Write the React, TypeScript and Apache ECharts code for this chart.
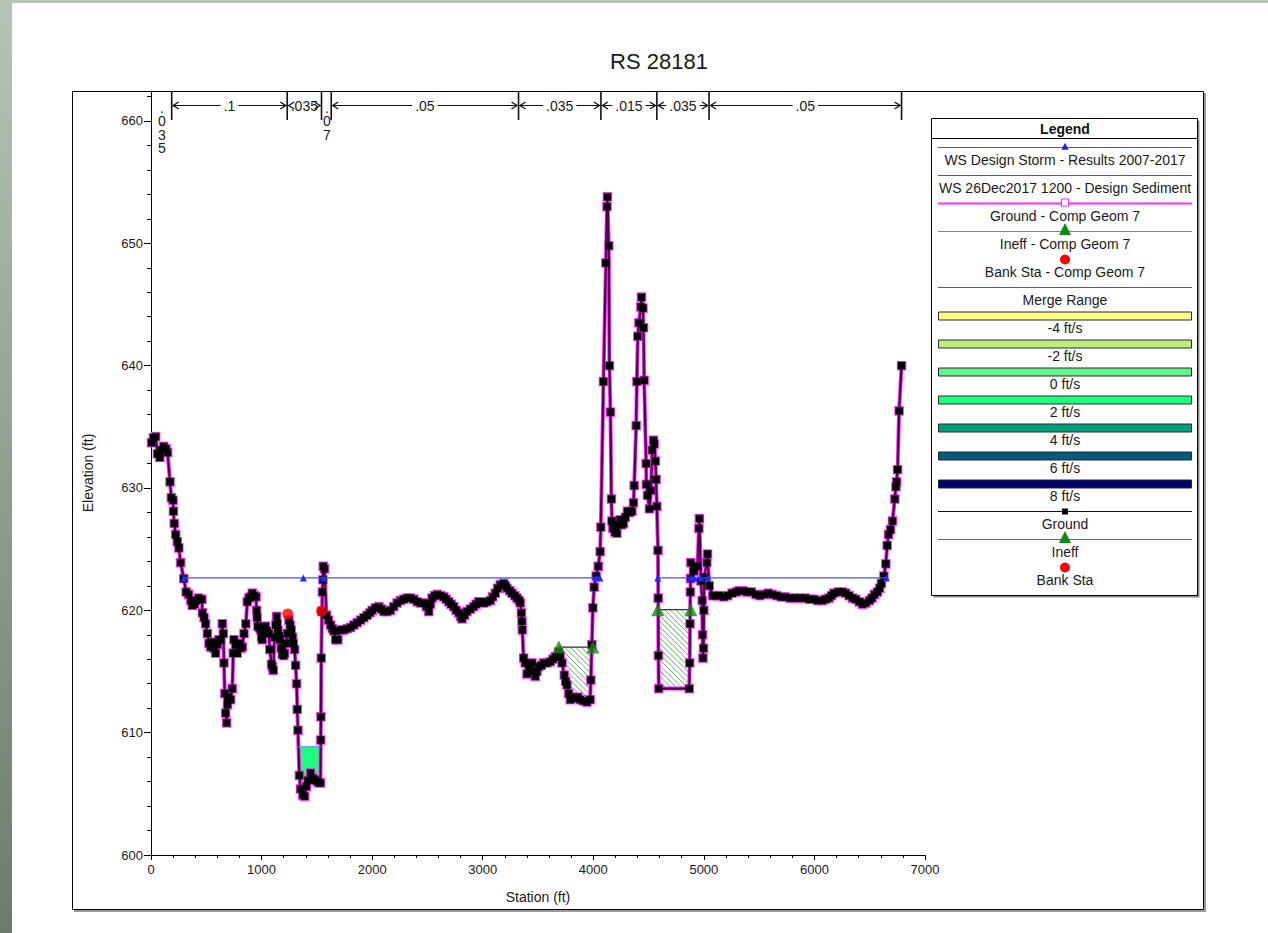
import React, { useEffect, useRef } from 'react';
import * as echarts from 'echarts';

const FONT = '"Liberation Sans", Arial, Helvetica, sans-serif';

const chartTitle = 'RS 28181';
const xAxisTitle = 'Station (ft)';
const yAxisTitle = 'Elevation (ft)';
const xMin = 0;
const xMax = 7000;
const xStep = 1000;
const yMin = 600;
const yMax = 662.45;
const yStep = 10;
const yMinorStep = 2;

// Ground profile (station ft, elevation ft)
const groundStation = [
  5, 22, 42, 58, 80, 95, 115, 135, 150, 172, 184, 199, 203, 210, 223, 238, 252, 268, 296, 318, 340, 360, 374, 395, 410, 430, 460, 465, 480, 494,
  510, 524, 539, 554, 570, 585, 600, 615, 630, 645, 654, 660, 667, 675, 684, 692, 700, 720, 735, 744, 750, 765, 780, 795, 810, 826, 841, 858, 871, 885,
  900, 916, 935, 950, 955, 960, 967, 980, 991, 1000, 1006, 1020, 1036, 1050, 1066, 1075, 1090, 1097, 1106, 1117, 1128, 1136, 1142, 1148, 1160, 1166, 1177, 1187, 1200, 1208,
  1220, 1233, 1247, 1258, 1268, 1280, 1287, 1299, 1308, 1317, 1323, 1329, 1342, 1352, 1372, 1390, 1405, 1420, 1443, 1458, 1475, 1488, 1505, 1518, 1533, 1535, 1537, 1540, 1546, 1550,
  1555, 1558, 1569, 1587, 1605, 1624, 1640, 1655, 1670, 1690, 1714, 1744, 1774, 1805, 1835, 1865, 1895, 1925, 1955, 1980, 2000, 2030, 2061, 2085, 2106, 2135, 2165, 2195, 2226, 2256,
  2286, 2316, 2346, 2377, 2407, 2437, 2467, 2490, 2512, 2527, 2542, 2565, 2589, 2620, 2648, 2670, 2693, 2715, 2738, 2760, 2783, 2800, 2813, 2835, 2858, 2888, 2918, 2940, 2964, 2985,
  3009, 3040, 3069, 3090, 3114, 3135, 3159, 3190, 3205, 3220, 3245, 3265, 3290, 3310, 3330, 3340, 3350, 3355, 3358, 3370, 3385, 3400, 3420, 3445, 3460, 3475, 3490, 3506, 3530, 3551,
  3580, 3611, 3635, 3656, 3686, 3700, 3717, 3738, 3750, 3762, 3777, 3792, 3815, 3837, 3860, 3882, 3910, 3942, 3972, 3978, 3987, 3996, 4008, 4026, 4045, 4062, 4068, 4092, 4114, 4124,
  4128, 4140, 4146, 4155, 4164, 4168, 4177, 4195, 4213, 4228, 4243, 4258, 4273, 4290, 4309, 4330, 4349, 4364, 4370, 4388, 4394, 4403, 4412, 4430, 4436, 4449, 4454, 4460, 4478, 4480,
  4490, 4508, 4521, 4533, 4544, 4551, 4562, 4568, 4575, 4585, 4587, 4589, 4592, 4868, 4872, 4875, 4878, 4880, 4882, 4912, 4943, 4955, 4960, 4973, 4985, 4988, 4992, 4997, 5000, 5003,
  5027, 5033, 5049, 5080, 5110, 5140, 5180, 5216, 5255, 5293, 5320, 5353, 5390, 5430, 5470, 5506, 5545, 5582, 5620, 5659, 5700, 5735, 5780, 5826, 5870, 5918, 5955, 5994, 6030, 6070,
  6100, 6131, 6155, 6176, 6215, 6253, 6283, 6313, 6345, 6374, 6405, 6435, 6465, 6497, 6520, 6543, 6570, 6590, 6606, 6628, 6646, 6658, 6670, 6688, 6706, 6727, 6737, 6743, 6752, 6766,
  6788,
];
const groundElev = [
  633.7, 634.1, 634.2, 632.8, 632.5, 633.1, 633.4, 633.2, 632.9, 630.5, 629.2, 629.0, 628.1, 627.1, 626.2, 625.6, 625.1, 623.9, 622.6, 621.5, 621.3, 620.8, 620.4, 620.5, 620.8, 621.0, 620.9, 619.8, 619.4, 618.9,
  618.1, 617.3, 617.0, 617.4, 616.9, 616.5, 617.2, 617.6, 617.6, 618.9, 618.1, 615.7, 613.2, 611.6, 610.8, 612.3, 612.9, 612.7, 613.6, 616.5, 617.6, 617.2, 616.5, 617.3, 616.9, 617.0, 618.1, 618.9, 620.7, 621.0,
  621.1, 621.4, 621.2, 621.1, 620.0, 619.4, 618.7, 618.6, 618.4, 617.8, 617.6, 618.2, 618.7, 618.3, 618.1, 616.8, 615.6, 615.4, 615.1, 617.8, 618.8, 619.5, 618.9, 618.4, 617.9, 617.6, 616.9, 616.4, 616.3, 616.5,
  617.3, 618.1, 619.2, 618.8, 618.4, 617.8, 617.3, 616.8, 615.5, 614.0, 611.9, 610.2, 606.5, 605.4, 604.9, 604.8, 605.6, 606.1, 606.7, 606.3, 606.2, 606.1, 606.0, 605.9, 605.9, 609.4, 611.3, 616.1, 619.9, 621.5,
  622.5, 623.6, 623.4, 619.6, 619.2, 618.8, 618.5, 618.3, 617.6, 617.6, 618.4, 618.4, 618.5, 618.6, 618.8, 619.0, 619.2, 619.4, 619.6, 619.8, 620.0, 620.2, 620.3, 620.1, 619.9, 619.9, 620.0, 620.3, 620.6, 620.8,
  620.9, 621.0, 621.0, 620.9, 620.7, 620.6, 620.6, 620.3, 619.9, 620.5, 621.0, 621.2, 621.3, 621.2, 621.1, 620.9, 620.7, 620.5, 620.3, 620.0, 619.8, 619.5, 619.3, 619.6, 619.9, 620.1, 620.3, 620.5, 620.7, 620.7,
  620.6, 620.7, 620.8, 621.1, 621.4, 621.8, 622.1, 622.2, 622.0, 621.8, 621.6, 621.4, 621.2, 621.0, 620.8, 620.6, 619.8, 619.1, 618.4, 616.1, 615.7, 614.8, 615.2, 615.7, 615.0, 614.6, 615.0, 615.4, 615.5, 615.7,
  615.7, 615.8, 616.0, 616.2, 616.6, 616.3, 615.7, 614.7, 614.2, 613.9, 613.2, 612.7, 612.9, 612.8, 612.9, 612.7, 612.6, 612.5, 612.7, 614.3, 617.2, 620.2, 621.9, 622.8, 623.6, 624.8, 626.8, 638.7, 648.4, 653.0,
  653.8, 649.8, 640.0, 636.2, 629.1, 627.3, 626.7, 626.4, 626.3, 627.0, 627.4, 627.0, 627.1, 627.6, 628.1, 628.0, 628.1, 628.8, 630.2, 635.1, 638.7, 642.4, 643.5, 644.8, 645.6, 644.7, 643.1, 638.8, 632.0, 630.3,
  629.4, 628.3, 629.8, 633.1, 633.9, 633.6, 632.2, 630.7, 628.5, 624.9, 621.0, 616.3, 613.6, 613.6, 615.7, 618.9, 621.5, 622.6, 623.9, 623.2, 623.6, 626.7, 627.5, 622.4, 620.8, 618.0, 616.1, 616.9, 620.0, 622.7,
  623.9, 624.6, 622.0, 621.2, 621.2, 621.2, 621.1, 621.2, 621.4, 621.5, 621.6, 621.6, 621.5, 621.5, 621.3, 621.2, 621.3, 621.4, 621.3, 621.2, 621.1, 621.1, 621.0, 621.0, 621.0, 621.0, 620.9, 620.9, 620.8, 620.8,
  620.9, 621.0, 621.2, 621.4, 621.5, 621.5, 621.4, 621.2, 621.0, 620.9, 620.7, 620.5, 620.6, 620.8, 621.0, 621.3, 621.5, 621.8, 622.2, 622.8, 623.8, 625.3, 626.2, 626.6, 627.3, 629.1, 630.1, 630.5, 631.5, 636.3,
  640.0,
];

// Water surface "WS Design Storm - Results 2007-2017" (null = break)
const wsStormStation: (number | null)[] = [296, 1378, 1560, 4026, 4060, null, 4583, 4882, 4912, 4973, 5034, 6650];
const wsStormElev = 622.65;

// Water surface "WS 26Dec2017 1200 - Design Sediment"
const wsSedStation = [1334, 1535];
const wsSedElev = 608.85;

// Ineffective flow areas
const ineffStart = [3688, 4583];
const ineffEnd = [3996, 4882];
const ineffElev = [617.0, 620.05];

// Bank stations
const bankStation = [1237, 1542];
const bankElev = [619.7, 619.95];

// Manning's n regions
const nBounds = [0, 187, 1232, 1542, 1630, 3324, 4069, 4575, 5047, 6788];
const nValues = ['.035', '.1', '.035', '.07', '.05', '.035', '.015', '.035', '.05'];

// Legend
const legendTitle = 'Legend';
const legendLabels = [
  'WS Design Storm - Results 2007-2017',
  'WS 26Dec2017 1200 - Design Sediment',
  'Ground - Comp Geom 7',
  'Ineff - Comp Geom 7',
  'Bank Sta - Comp Geom 7',
  'Merge Range',
  '-4 ft/s',
  '-2 ft/s',
  '0 ft/s',
  '2 ft/s',
  '4 ft/s',
  '6 ft/s',
  '8 ft/s',
  'Ground',
  'Ineff',
  'Bank Sta',
];
const legendSymbols = ['wsTri', 'ws', 'groundOld', 'ineffOld', 'bankOld', 'ws', 'vel', 'vel', 'vel', 'vel', 'vel', 'vel', 'vel', 'ground', 'ineff', 'bank'];
const velocityColors = ['#fdfd86', '#bcef7e', '#63f38a', '#1cff7c', '#009f79', '#00597f', '#00006f'];

const WS_BLUE = '#4050ff';
const WS2_BLUE = '#7090ff';
const MAGENTA = '#ff2bff';
const INEFF_GREEN = '#118811';
const BANK_RED = '#ff0000';

let measureCtx: CanvasRenderingContext2D | null = null;
function textWidth(t: string, font: string): number {
  if (!measureCtx) measureCtx = document.createElement('canvas').getContext('2d');
  if (!measureCtx) return t.length * 7;
  measureCtx.font = font;
  return measureCtx.measureText(t).width;
}

function groundAt(s: number): number {
  for (let i = 0; i < groundStation.length - 1; i++) {
    const a = groundStation[i];
    const b = groundStation[i + 1];
    if (s >= a && s <= b) {
      if (b === a) return groundElev[i];
      return groundElev[i] + ((groundElev[i + 1] - groundElev[i]) * (s - a)) / (b - a);
    }
  }
  return groundElev[groundElev.length - 1];
}

function regionPolygon(s1: number, s2: number, top: number): number[][] {
  const lower: number[][] = [[s1, Math.min(groundAt(s1), top)]];
  for (let i = 0; i < groundStation.length; i++) {
    if (groundStation[i] > s1 && groundStation[i] < s2) lower.push([groundStation[i], Math.min(groundElev[i], top)]);
  }
  lower.push([s2, Math.min(groundAt(s2), top)]);
  return [[s1, top], [s2, top]].concat(lower.reverse());
}

function hatchSegments(poly: number[][], spacing: number): number[][][] {
  const cs = poly.map((p) => p[0] - p[1]);
  const cmin = Math.min(...cs);
  const cmax = Math.max(...cs);
  const segs: number[][][] = [];
  for (let c = Math.ceil(cmin / spacing) * spacing; c <= cmax; c += spacing) {
    const hits: number[][] = [];
    for (let i = 0; i < poly.length; i++) {
      const a = poly[i];
      const b = poly[(i + 1) % poly.length];
      const ca = a[0] - a[1];
      const cb = b[0] - b[1];
      if ((ca <= c && c < cb) || (cb <= c && c < ca)) {
        const t = (c - ca) / (cb - ca);
        hits.push([a[0] + t * (b[0] - a[0]), a[1] + t * (b[1] - a[1])]);
      }
    }
    hits.sort((p, q) => p[0] + p[1] - (q[0] + q[1]));
    for (let k = 0; k + 1 < hits.length; k += 2) segs.push([hits[k], hits[k + 1]]);
  }
  return segs;
}

function buildLegend(): any[] {
  const L = 931.5;
  const T = 118.5;
  const W = 266;
  const H = 477;
  const X1 = 938;
  const X2 = 1192;
  const CX = 1065;
  const els: any[] = [];
  els.push({ type: 'rect', z: 100, shape: { x: L + 2, y: T + 2, width: W, height: H }, style: { fill: '#8a8a8a' } });
  els.push({ type: 'rect', z: 101, shape: { x: L, y: T, width: W, height: H }, style: { fill: '#ffffff', stroke: '#000', lineWidth: 1 } });
  els.push({
    type: 'text', z: 102,
    style: { text: legendTitle, x: CX, y: 128.5, fill: '#111', font: `bold 14px ${FONT}`, align: 'center', verticalAlign: 'middle', textAlign: 'center', textVerticalAlign: 'middle' },
  });
  els.push({ type: 'line', z: 102, shape: { x1: L, y1: 138.5, x2: L + W, y2: 138.5 }, style: { stroke: '#000', lineWidth: 1 } });
  let vi = 0;
  legendLabels.forEach((label, k) => {
    const ys = 147.5 + 28 * k;
    const sym = legendSymbols[k];
    const hline = (color: string, w: number) => ({ type: 'line', z: 102, shape: { x1: X1, y1: ys, x2: X2, y2: ys }, style: { stroke: color, lineWidth: w } });
    const tri = (color: string, size: number, dy: number) => ({
      type: 'polygon', z: 103,
      shape: { points: [[CX, ys + dy - size * 0.55], [CX - size / 2, ys + dy + size * 0.45], [CX + size / 2, ys + dy + size * 0.45]] },
      style: { fill: color },
    });
    if (sym === 'wsTri') {
      els.push(hline(WS_BLUE, 1.2));
      els.push(tri('#1020ff', 7, -1));
    } else if (sym === 'ws') {
      els.push(hline(WS_BLUE, 1.2));
    } else if (sym === 'groundOld') {
      els.push(hline(MAGENTA, 2));
      els.push({ type: 'rect', z: 103, shape: { x: CX - 3.5, y: ys - 4.5, width: 7, height: 7 }, style: { fill: '#fff', stroke: MAGENTA, lineWidth: 1.2 } });
    } else if (sym === 'ineffOld') {
      els.push(hline(MAGENTA, 1));
      els.push(tri(INEFF_GREEN, 12, -2));
    } else if (sym === 'bankOld' || sym === 'bank') {
      els.push({ type: 'circle', z: 103, shape: { cx: CX, cy: ys, r: 5 }, style: { fill: BANK_RED } });
    } else if (sym === 'vel') {
      els.push({ type: 'rect', z: 102, shape: { x: X1 + 0.5, y: ys - 3.5, width: X2 - X1 - 1, height: 8 }, style: { fill: velocityColors[vi], stroke: '#2a2a2a', lineWidth: 1 } });
      vi++;
    } else if (sym === 'ground') {
      els.push(hline('#111', 1));
      els.push({ type: 'rect', z: 103, shape: { x: CX - 3, y: ys - 3, width: 6, height: 6 }, style: { fill: '#000' } });
    } else if (sym === 'ineff') {
      els.push(hline('#2c8f2c', 1));
      els.push(tri(INEFF_GREEN, 12, -2));
    }
    els.push({
      type: 'text', z: 102,
      style: { text: label, x: CX, y: ys + 12, fill: '#1a1a1a', font: `14px ${FONT}`, align: 'center', verticalAlign: 'middle', textAlign: 'center', textVerticalAlign: 'middle' },
    });
  });
  return els;
}

function buildOption(): any {
  const groundData = groundStation.map((s, i) => [s, groundElev[i]]);
  const wsStormData = wsStormStation.map((s) => (s === null ? [null, null] : [s, wsStormElev]));
  const wsSedData = wsSedStation.map((s) => [s, wsSedElev]);
  const ineffData: number[][] = [];
  ineffStart.forEach((s, i) => {
    ineffData.push([s, ineffElev[i]]);
    ineffData.push([ineffEnd[i], ineffElev[i]]);
  });
  const bankData = bankStation.map((s, i) => [s, bankElev[i]]);
  const NFONT = `14px ${FONT}`;

  const frame = [
    { type: 'rect', z: 50, shape: { x: 1204, y: 93, width: 2, height: 819 }, style: { fill: '#9a9a9a' } },
    { type: 'rect', z: 50, shape: { x: 74, y: 910, width: 1132, height: 2 }, style: { fill: '#9a9a9a' } },
    { type: 'rect', z: 51, shape: { x: 72.5, y: 91.5, width: 1131, height: 818 }, style: { fill: 'none', stroke: '#000', lineWidth: 1 } },
  ];

  return {
    animation: false,
    backgroundColor: 'transparent',
    textStyle: { fontFamily: FONT },
    title: {
      text: chartTitle,
      left: 654,
      top: 45,
      textAlign: 'center',
      textStyle: { fontSize: 22, fontWeight: 'normal', color: '#1a1a1a', fontFamily: FONT },
    },
    grid: { left: 151, top: 91, width: 774, height: 764, containLabel: false },
    xAxis: {
      type: 'value',
      min: xMin,
      max: xMax,
      interval: xStep,
      name: xAxisTitle,
      nameLocation: 'middle',
      nameGap: 35,
      nameTextStyle: { fontSize: 14, color: '#1a1a1a', fontFamily: FONT },
      axisLine: { show: true, onZero: false, lineStyle: { color: '#000', width: 1 } },
      axisTick: { show: true, length: 5, lineStyle: { color: '#000', width: 1 } },
      minorTick: { show: true, splitNumber: 5, length: 3, lineStyle: { color: '#000', width: 1 } },
      axisLabel: { fontSize: 13, color: '#1a1a1a', margin: 8, fontFamily: FONT, formatter: (v: number) => String(v) },
      splitLine: { show: false },
    },
    yAxis: [
      {
        type: 'value',
        position: 'left',
        min: yMin,
        max: yMax,
        interval: yStep,
        name: yAxisTitle,
        nameLocation: 'middle',
        nameGap: 56,
        nameRotate: 90,
        nameTextStyle: { fontSize: 14, color: '#1a1a1a', fontFamily: FONT },
        axisLine: { show: true, onZero: false, lineStyle: { color: '#000', width: 1 } },
        axisTick: { show: true, length: 7, lineStyle: { color: '#000', width: 1 } },
        axisLabel: {
          fontSize: 13,
          color: '#1a1a1a',
          margin: 8,
          fontFamily: FONT,
          formatter: (v: number) => (Math.abs(v % yStep) < 1e-6 ? String(v) : ''),
        },
        splitLine: { show: false },
      },
      {
        type: 'value',
        position: 'left',
        min: yMin,
        max: yMax,
        interval: yMinorStep,
        axisLine: { show: false, onZero: false },
        axisTick: { show: true, length: 4, lineStyle: { color: '#000', width: 1 } },
        axisLabel: { show: false },
        splitLine: { show: false },
      },
    ],
    series: [
      {
        name: 'Velocity',
        type: 'custom',
        z: 1,
        silent: true,
        clip: true,
        data: [[wsSedStation[0], wsSedElev]],
        renderItem: (params: any, api: any) => {
          const pts = regionPolygon(wsSedStation[0], wsSedStation[1], wsSedElev).map((p) => api.coord(p));
          return { type: 'polygon', shape: { points: pts }, style: { fill: velocityColors[3], stroke: 'none' } };
        },
      },
      {
        name: 'Ineff area',
        type: 'custom',
        z: 2,
        silent: true,
        clip: true,
        data: ineffStart.map((s, i) => [s, ineffElev[i]]),
        renderItem: (params: any, api: any) => {
          const i = params.dataIndex;
          const s1 = ineffStart[i];
          const s2 = ineffEnd[i];
          const e = ineffElev[i];
          const poly = regionPolygon(s1, s2, e).map((p) => api.coord(p));
          const segs = hatchSegments(poly, 5.5);
          const children: any[] = segs.map(([a, b]) => ({
            type: 'line',
            shape: { x1: a[0], y1: a[1], x2: b[0], y2: b[1] },
            style: { stroke: '#3c9a3c', lineWidth: 1, opacity: 0.75 },
          }));
          const t1 = api.coord([s1, e]);
          const t2 = api.coord([s2, e]);
          children.push({ type: 'line', shape: { x1: t1[0], y1: t1[1], x2: t2[0], y2: t2[1] }, style: { stroke: '#333', lineWidth: 1.3 } });
          return { type: 'group', children };
        },
      },
      {
        name: 'Ground - Comp Geom 7',
        type: 'line',
        z: 3,
        silent: true,
        data: groundData,
        symbol: 'rect',
        symbolSize: 9.5,
        showAllSymbol: true,
        itemStyle: { color: MAGENTA },
        lineStyle: { color: MAGENTA, width: 4 },
      },
      {
        name: 'Ground',
        type: 'line',
        z: 4,
        silent: true,
        data: groundData,
        symbol: 'rect',
        symbolSize: 7.5,
        showAllSymbol: true,
        itemStyle: { color: '#000' },
        lineStyle: { color: '#500050', width: 2.2 },
      },
      {
        name: 'WS 26Dec2017 1200 - Design Sediment',
        type: 'line',
        z: 5,
        silent: true,
        data: wsSedData,
        symbol: 'none',
        lineStyle: { color: WS2_BLUE, width: 1.3 },
      },
      {
        name: 'WS Design Storm - Results 2007-2017',
        type: 'line',
        z: 5,
        silent: true,
        data: wsStormData,
        connectNulls: false,
        symbol: 'triangle',
        symbolSize: 7,
        itemStyle: { color: '#1a2cff' },
        lineStyle: { color: WS_BLUE, width: 1.3 },
      },
      {
        name: 'Ineff',
        type: 'scatter',
        z: 6,
        silent: true,
        data: ineffData,
        symbol: 'triangle',
        symbolSize: 13,
        itemStyle: { color: INEFF_GREEN },
      },
      {
        name: 'Bank Sta',
        type: 'scatter',
        z: 6,
        silent: true,
        data: bankData,
        symbol: 'circle',
        symbolSize: 11,
        itemStyle: { color: BANK_RED },
      },
      {
        name: "Manning's n",
        type: 'custom',
        z: 7,
        silent: true,
        clip: false,
        data: nValues.map((_, i) => [nBounds[i], yMax, nBounds[i + 1]]),
        encode: { x: [0, 2], y: 1 },
        renderItem: (params: any, api: any) => {
          const i = params.dataIndex;
          const top = params.coordSys.y;
          const xs = api.coord([nBounds[i], yMax])[0];
          const xe = api.coord([nBounds[i + 1], yMax])[0];
          const yl = top + 14.5;
          const label = nValues[i];
          const w = textWidth(label, NFONT);
          const children: any[] = [];
          const ink = '#111';
          if (xe - xs >= w + 4) {
            children.push({ type: 'line', shape: { x1: xs + 1, y1: yl, x2: xe - 1, y2: yl }, style: { stroke: ink, lineWidth: 1 } });
            children.push({
              type: 'text',
              style: {
                text: label, x: (xs + xe) / 2, y: yl, fill: '#1a1a1a', font: NFONT,
                align: 'center', verticalAlign: 'middle', textAlign: 'center', textVerticalAlign: 'middle',
                backgroundColor: '#fff', padding: [0, 3],
              },
            });
            children.push({ type: 'polyline', shape: { points: [[xs + 7, yl - 3.5], [xs + 1.5, yl], [xs + 7, yl + 3.5]] }, style: { stroke: ink, lineWidth: 1.3, fill: 'none' } });
            children.push({ type: 'polyline', shape: { points: [[xe - 7, yl - 3.5], [xe - 1.5, yl], [xe - 7, yl + 3.5]] }, style: { stroke: ink, lineWidth: 1.3, fill: 'none' } });
          } else {
            children.push({
              type: 'text',
              style: {
                text: label.split('').join('\n'), x: (xs + xe) / 2 + 0.5, y: top + 10, fill: '#1a1a1a', font: NFONT, lineHeight: 13.5,
                align: 'center', verticalAlign: 'top', textAlign: 'center', textVerticalAlign: 'top',
              },
            });
          }
          if (i > 0) children.push({ type: 'line', shape: { x1: xs, y1: top + 1, x2: xs, y2: top + 29 }, style: { stroke: ink, lineWidth: 1.6 } });
          if (i === nValues.length - 1) children.push({ type: 'line', shape: { x1: xe, y1: top + 1, x2: xe, y2: top + 29 }, style: { stroke: ink, lineWidth: 1.6 } });
          return { type: 'group', children };
        },
      },
    ],
    graphic: [...frame, ...buildLegend()],
  };
}

export default function App() {
  const ref = useRef<HTMLDivElement>(null);
  useEffect(() => {
    if (!ref.current) return;
    const chart = echarts.init(ref.current, undefined, { renderer: 'svg' });
    chart.setOption(buildOption());
    return () => chart.dispose();
  }, []);
  return (
    <div
      style={{
        position: 'fixed',
        left: 0,
        top: 0,
        width: 1268,
        height: 933,
        overflow: 'hidden',
        background: 'linear-gradient(to bottom, #b5c4b5, #6c7b6c)',
      }}
    >
      <div style={{ position: 'absolute', left: 12, top: 3, right: 0, bottom: 0, background: '#ffffff' }} />
      <div ref={ref} style={{ position: 'absolute', left: 0, top: 0, width: 1268, height: 933 }} />
    </div>
  );
}
